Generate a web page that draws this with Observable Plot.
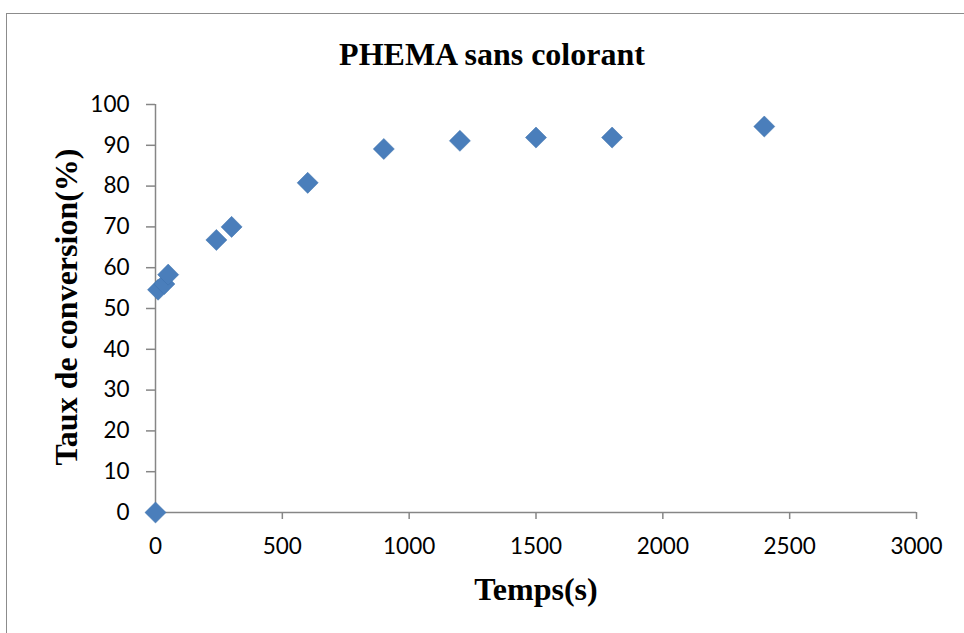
<!DOCTYPE html>
<html><head><meta charset="utf-8">
<script src="https://cdn.jsdelivr.net/npm/d3@7"></script>
<script src="https://cdn.jsdelivr.net/npm/@observablehq/plot@0.6"></script>
<style>
body{margin:0;background:#fff;width:964px;height:633px;overflow:hidden;position:relative}
#frame{position:absolute;left:6px;top:13px;width:1000px;height:700px;border:1.5px solid #8c8c8c;box-sizing:border-box}
#chart{position:absolute;left:0;top:0}
.t{position:absolute;font-family:"Liberation Serif","Times New Roman",serif;font-weight:bold;font-size:32px;line-height:1;color:#000;white-space:nowrap}
#title{left:492px;top:54px;transform:translate(-50%,-50%)}
#xl{left:536px;top:589px;transform:translate(-50%,-50%)}
#yl{left:66px;top:307px;transform:translate(-50%,-50%) rotate(-90deg)}
</style></head><body>
<div id="frame"></div>
<div id="chart"></div>
<div class="t" id="title">PHEMA sans colorant</div>
<div class="t" id="xl">Temps(s)</div>
<div class="t" id="yl">Taux de conversion(%)</div>
<script>
const times = [0, 10, 35, 50, 240, 300, 600, 900, 1200, 1500, 1800, 2400];
const conversion = [0, 54.6, 56.0, 58.3, 66.8, 70.0, 80.8, 89.1, 91.1, 91.9, 91.9, 94.6];
const xTicks = [0, 500, 1000, 1500, 2000, 2500, 3000];
const yTicks = [0, 10, 20, 30, 40, 50, 60, 70, 80, 90, 100];

const data = times.map((t, i) => ({t, c: conversion[i]}));
const axisGray = "#868686";

const plot = Plot.plot({
  width: 964,
  height: 633,
  marginLeft: 155,
  marginRight: 48,
  marginTop: 104,
  marginBottom: 121,
  style: {fontFamily: "Lato, 'Open Sans', sans-serif", background: "transparent"},
  x: {domain: [0, 3000]},
  y: {domain: [0, 100]},
  marks: [
    Plot.axisX({ticks: xTicks, tickSize: 7, tickPadding: 19, fontSize: 22.5, stroke: axisGray, strokeWidth: 1.5, fill: "#000", label: null, tickFormat: d => String(d)}),
    Plot.axisY({ticks: yTicks, tickSize: 9, tickPadding: 17, fontSize: 22.5, stroke: axisGray, strokeWidth: 1.5, fill: "#000", label: null, tickFormat: d => String(d)}),
    Plot.ruleY([0], {stroke: axisGray, strokeWidth: 1.5}),
    Plot.ruleX([0], {stroke: axisGray, strokeWidth: 1.5}),
    Plot.dot(data, {x: "t", y: "c", symbol: "diamond2", r: 9.5, fill: "#4a7ebb", stroke: "#3f72ad", strokeWidth: 0.5})
  ]
});
document.getElementById("chart").appendChild(plot);
</script>
</body></html>
